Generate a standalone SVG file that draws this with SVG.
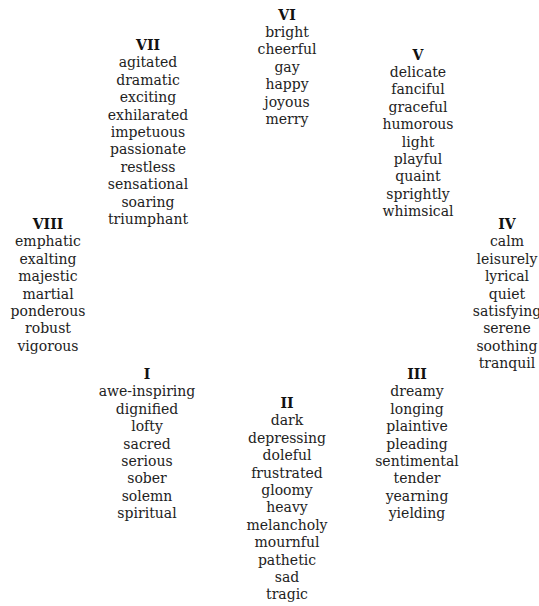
<svg xmlns="http://www.w3.org/2000/svg" width="539" height="606" viewBox="0 0 539 606">
<style>
text{font-family:"DejaVu Serif","Liberation Serif",serif;font-size:14px;fill:#222;text-anchor:middle}
.h{font-weight:bold;fill:#111}
</style>
<rect width="539" height="606" fill="#fff"/>
<g id="cluster-VI">
<text class="h" x="287" y="19.5">VI</text>
<text x="287" y="19.5"><tspan x="287" dy="17.4">bright</tspan><tspan x="287" dy="17.4">cheerful</tspan><tspan x="287" dy="17.4">gay</tspan><tspan x="287" dy="17.4">happy</tspan><tspan x="287" dy="17.4">joyous</tspan><tspan x="287" dy="17.4">merry</tspan></text>
</g>
<g id="cluster-VII">
<text class="h" x="148" y="50">VII</text>
<text x="148" y="50"><tspan x="148" dy="17.4">agitated</tspan><tspan x="148" dy="17.4">dramatic</tspan><tspan x="148" dy="17.4">exciting</tspan><tspan x="148" dy="17.4">exhilarated</tspan><tspan x="148" dy="17.4">impetuous</tspan><tspan x="148" dy="17.4">passionate</tspan><tspan x="148" dy="17.4">restless</tspan><tspan x="148" dy="17.4">sensational</tspan><tspan x="148" dy="17.4">soaring</tspan><tspan x="148" dy="17.4">triumphant</tspan></text>
</g>
<g id="cluster-V">
<text class="h" x="418" y="59.5">V</text>
<text x="418" y="59.5"><tspan x="418" dy="17.4">delicate</tspan><tspan x="418" dy="17.4">fanciful</tspan><tspan x="418" dy="17.4">graceful</tspan><tspan x="418" dy="17.4">humorous</tspan><tspan x="418" dy="17.4">light</tspan><tspan x="418" dy="17.4">playful</tspan><tspan x="418" dy="17.4">quaint</tspan><tspan x="418" dy="17.4">sprightly</tspan><tspan x="418" dy="17.4">whimsical</tspan></text>
</g>
<g id="cluster-VIII">
<text class="h" x="48" y="229">VIII</text>
<text x="48" y="229"><tspan x="48" dy="17.4">emphatic</tspan><tspan x="48" dy="17.4">exalting</tspan><tspan x="48" dy="17.4">majestic</tspan><tspan x="48" dy="17.4">martial</tspan><tspan x="48" dy="17.4">ponderous</tspan><tspan x="48" dy="17.4">robust</tspan><tspan x="48" dy="17.4">vigorous</tspan></text>
</g>
<g id="cluster-IV">
<text class="h" x="507" y="229">IV</text>
<text x="507" y="229"><tspan x="507" dy="17.4">calm</tspan><tspan x="507" dy="17.4">leisurely</tspan><tspan x="507" dy="17.4">lyrical</tspan><tspan x="507" dy="17.4">quiet</tspan><tspan x="507" dy="17.4">satisfying</tspan><tspan x="507" dy="17.4">serene</tspan><tspan x="507" dy="17.4">soothing</tspan><tspan x="507" dy="17.4">tranquil</tspan></text>
</g>
<g id="cluster-I">
<text class="h" x="147" y="379">I</text>
<text x="147" y="379"><tspan x="147" dy="17.4">awe-inspiring</tspan><tspan x="147" dy="17.4">dignified</tspan><tspan x="147" dy="17.4">lofty</tspan><tspan x="147" dy="17.4">sacred</tspan><tspan x="147" dy="17.4">serious</tspan><tspan x="147" dy="17.4">sober</tspan><tspan x="147" dy="17.4">solemn</tspan><tspan x="147" dy="17.4">spiritual</tspan></text>
</g>
<g id="cluster-III">
<text class="h" x="417" y="379">III</text>
<text x="417" y="379"><tspan x="417" dy="17.4">dreamy</tspan><tspan x="417" dy="17.4">longing</tspan><tspan x="417" dy="17.4">plaintive</tspan><tspan x="417" dy="17.4">pleading</tspan><tspan x="417" dy="17.4">sentimental</tspan><tspan x="417" dy="17.4">tender</tspan><tspan x="417" dy="17.4">yearning</tspan><tspan x="417" dy="17.4">yielding</tspan></text>
</g>
<g id="cluster-II">
<text class="h" x="287" y="408">II</text>
<text x="287" y="408"><tspan x="287" dy="17.4">dark</tspan><tspan x="287" dy="17.4">depressing</tspan><tspan x="287" dy="17.4">doleful</tspan><tspan x="287" dy="17.4">frustrated</tspan><tspan x="287" dy="17.4">gloomy</tspan><tspan x="287" dy="17.4">heavy</tspan><tspan x="287" dy="17.4">melancholy</tspan><tspan x="287" dy="17.4">mournful</tspan><tspan x="287" dy="17.4">pathetic</tspan><tspan x="287" dy="17.4">sad</tspan><tspan x="287" dy="17.4">tragic</tspan></text>
</g>
<g id="connectors"></g>
</svg>
